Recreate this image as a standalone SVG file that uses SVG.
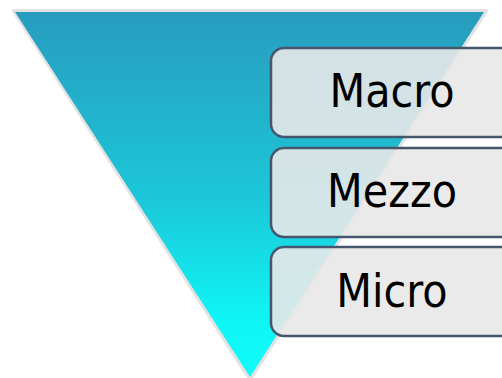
<svg xmlns="http://www.w3.org/2000/svg" width="502" height="378" viewBox="0 0 502 378">
<defs>
<linearGradient id="g" x1="0" y1="0" x2="0" y2="1">
<stop offset="0" stop-color="#289CBE"/>
<stop offset="0.5" stop-color="#1CC6D8"/>
<stop offset="0.85" stop-color="#0FF6F6"/>
<stop offset="1" stop-color="#0EFCFA"/>
</linearGradient>
</defs>
<style>
.box{fill:#E8E8E8;fill-opacity:0.9;stroke:#46566C;stroke-width:2.5}
.lbl{font-family:"DejaVu Sans Condensed","DejaVu Sans",sans-serif;font-size:46px;fill:#000;text-anchor:middle}
</style>
<g id="funnel">
<polygon points="14,11 486,11 250,379" fill="none" stroke="#E2E2E2" stroke-width="4" stroke-linejoin="round"/>
<polygon points="15,12 484,12 250,377" fill="url(#g)"/>
</g>
<g id="macro">
<rect class="box" x="271" y="48" width="250" height="89" rx="13"/>
<text class="lbl" x="392" y="107">Macro</text>
</g>
<g id="mezzo">
<rect class="box" x="271" y="148" width="250" height="89" rx="13"/>
<text class="lbl" x="392" y="207">Mezzo</text>
</g>
<g id="micro">
<rect class="box" x="271" y="247" width="250" height="89" rx="13"/>
<text class="lbl" x="392" y="307">Micro</text>
</g>
<g id="connectors"/>
</svg>
